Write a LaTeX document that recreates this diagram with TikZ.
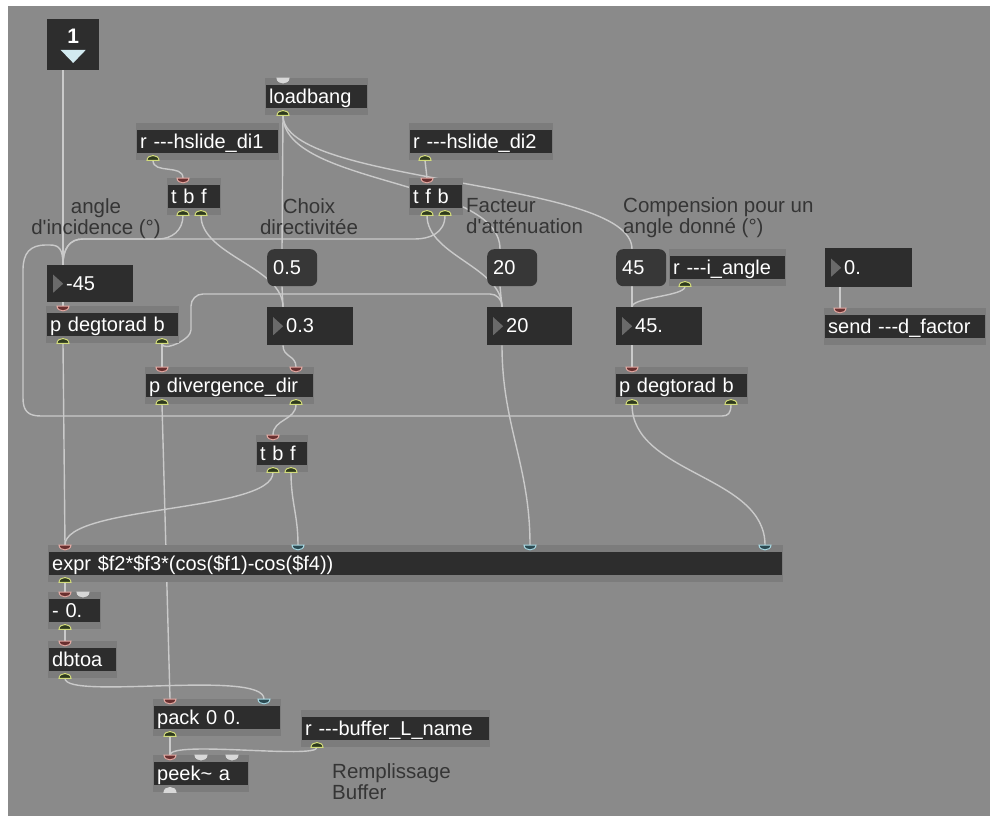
\documentclass[tikz,border=0pt]{standalone}
\usepackage{fontspec}
\setmainfont{Liberation Sans}
\usetikzlibrary{calc}
\definecolor{patchbg}{HTML}{8A8A8A}
\definecolor{band}{HTML}{7C7C7C}
\definecolor{boxfill}{HTML}{2D2D2D}
\definecolor{msgfill}{HTML}{373737}
\definecolor{cordc}{HTML}{CACACA}
\definecolor{cmtc}{HTML}{353535}
\definecolor{tric}{HTML}{6A6A6A}
\definecolor{inletc}{HTML}{D2EAF0}
\definecolor{hotfill}{HTML}{6A3030}
\definecolor{hotrim}{HTML}{E2A9A2}
\definecolor{coldfill}{HTML}{2B4A52}
\definecolor{coldrim}{HTML}{A8D8E2}
\definecolor{outfill}{HTML}{2E3A1E}
\definecolor{outrim}{HTML}{D2DB7A}
\definecolor{pwhitec}{HTML}{D8D8D8}
\pgfdeclarelayer{bg}
\pgfdeclarelayer{cords}
\pgfsetlayers{bg,cords,main}
\tikzset{
  obj/.style={anchor=north west,fill=band,text=white,inner xsep=4pt,inner ysep=0pt,
    minimum height=37pt,text width=#1,text height=16pt,text depth=3pt,
    execute at begin node={\hbox\bgroup},execute at end node={\egroup},
    path picture={\fill[boxfill] ([xshift=1pt,yshift=-7pt]path picture bounding box.north west)
      rectangle ([xshift=-1pt,yshift=7pt]path picture bounding box.south east);}},
  num/.style={anchor=north west,fill=boxfill,text=white,inner xsep=3pt,inner ysep=0pt,
    minimum height=38pt,text width=#1,text height=16pt,text depth=3pt,
    execute at begin node={\hbox\bgroup\hspace*{16pt}},execute at end node={\egroup},
    path picture={\fill[tric] ([xshift=6pt,yshift=9pt]path picture bounding box.west)
      -- ++(10pt,-9pt) -- ++(-10pt,-9pt) -- cycle;}},
  msg/.style={anchor=north west,fill=msgfill,rounded corners=7pt,text=white,inner xsep=6pt,
    inner ysep=0pt,minimum height=37pt,text width=#1,text height=16pt,text depth=3pt,
    execute at begin node={\hbox\bgroup},execute at end node={\egroup}},
  cmt/.style={text=cmtc,inner sep=0pt,font=\fontsize{20.5}{21}\selectfont},
  cord/.style={draw=cordc,line width=1.4pt},
  hot/.style={fill=hotfill,draw=hotrim,line width=1pt},
  cold/.style={fill=coldfill,draw=coldrim,line width=1pt},
  pwhite/.style={fill=pwhitec,draw=pwhitec,line width=1pt},
  outp/.style={fill=outfill,draw=outrim,line width=1pt}
}

\begin{document}
\begin{tikzpicture}[x=1pt,y=-1pt,font=\fontsize{20}{21}\selectfont]
 \useasboundingbox (0,0) rectangle (990,816);
 \begin{pgfonlayer}{bg}
  \fill[white] (0,0) rectangle (990,816);
  \fill[patchbg] (8,6) rectangle (990,816);
 \end{pgfonlayer}
 % inlet 1
 \node[anchor=north west,fill=boxfill,minimum width=52pt,minimum height=51pt,inner sep=0pt] (inl) at (47,19) {};
 \node[text=white,font=\fontsize{21}{21}\selectfont\bfseries] (inlnum) at ($(inl.north)+(0,17)$) {1};
 \fill[inletc] ($(inl.north)+(-12.5,31)$) -- ++(25,0) -- ++(-12.5,13) -- cycle;
 % objects
 \node[obj=95pt] (lb) at (265,78) {loadbang};
 \node[obj=135pt] (hsl1) at (136,123) {r -{}-{}-hslide\_di1};
 \node[obj=46pt] (tbfA) at (167,178) {t b f};
 \node[obj=136pt] (hsl2) at (409,123) {r -{}-{}-hslide\_di2};
 \node[obj=46pt] (tfb) at (409,178) {t f b};
 \node[obj=109pt] (iang) at (669,249) {r -{}-{}-i\_angle};
 \node[obj=154pt] (send) at (824,308) {send -{}-{}-d\_factor};
 \node[obj=125pt] (degL) at (46,306) {p degtorad b};
 \node[obj=161pt] (div) at (145,367) {p divergence\_dir};
 \node[obj=125pt] (degR) at (615,367) {p degtorad b};
 \node[obj=44pt] (tbfB) at (256,435) {t b f};
 \node[obj=727pt] (expr) at (48,545) {expr \$f2*\$f3*(cos(\$f1)-cos(\$f4))};
 \node[obj=45pt] (sub) at (48,592) {- 0.};
 \node[obj=61pt] (dbtoa) at (48,641) {dbtoa};
 \node[obj=120pt] (pack) at (153,699) {pack 0 0.};
 \node[obj=181pt] (rbuf) at (301,710) {r -{}-{}-buffer\_L\_name};
 \node[obj=88pt] (peek) at (153,755) {peek\textasciitilde{} a};
 % messages and number boxes
 \node[msg=38pt] (m05) at (267,249) {0.5};
 \node[msg=38pt] (m20) at (487,249) {20};
 \node[msg=38pt] (m45) at (616,249) {45};
 \node[num=80pt,minimum height=37pt] (n45) at (47,265) {-45};
 \node[num=80pt] (n03) at (267,307) {0.3};
 \node[num=79pt] (n20) at (487,307) {20};
 \node[num=80pt] (n45d) at (616,307) {45.};
 \node[num=81pt,minimum height=39pt] (n0) at (825,248) {0.};
 % comments
 \node[cmt,align=center,anchor=north] (cAng) at (96,198) {angle\\d\textquotesingle incidence (°)};
 \node[cmt,align=center,anchor=north] (cDir) at (309,198) {Choix\\directivitée};
 \node[cmt,align=left,anchor=north west] (cAtt) at (466,198) {Facteur\\d\textquotesingle atténuation};
 \node[cmt,align=left,anchor=north west] (cComp) at (623,197) {Compension pour un\\angle donné (°)};
 \node[cmt,align=left,anchor=north west] (cBuf) at (332,763) {Remplissage\\Buffer};
 % ports
 \foreach \nm/\dx/\st in {lb/18/pwhite,tbfA/16/hot,tfb/18/hot,send/16/hot,degL/17/hot,div/17/hot,
   div/151/hot,degR/17/hot,tbfB/17/hot,expr/17/hot,expr/250/cold,expr/482/cold,expr/717/cold,
   sub/17/hot,sub/35/pwhite,dbtoa/17/hot,pack/17/hot,pack/111/cold,peek/17/hot,peek/48/pwhite,peek/79/pwhite}{
  \coordinate (\nm-i\dx) at ($(\nm.north west)+(\dx,0)$);
  \filldraw[\st] ($(\nm-i\dx)+(-6,0)$) .. controls +(0,6.5) and +(0,6.5) .. ($(\nm-i\dx)+(6,0)$) -- cycle;
 }
 \foreach \nm/\dx/\st in {lb/18/outp,hsl1/17/outp,tbfA/16/outp,tbfA/34/outp,hsl2/16/outp,tfb/18/outp,
   tfb/36/outp,iang/16/outp,degL/17/outp,degL/116/outp,div/17/outp,div/151/outp,degR/17/outp,
   degR/116/outp,tbfB/17/outp,tbfB/35/outp,expr/17/outp,sub/17/outp,dbtoa/17/outp,pack/17/outp,
   rbuf/16/outp,peek/17/pwhite}{
  \coordinate (\nm-o\dx) at ($(\nm.south west)+(\dx,0)$);
  \filldraw[\st] ($(\nm-o\dx)+(-6,0)$) .. controls +(0,-6.5) and +(0,-6.5) .. ($(\nm-o\dx)+(6,0)$) -- cycle;
 }
 \foreach \nm/\dx in {inl/16,n45/16,m05/15,n03/16,m20/13,n20/15,m45/16,n45d/16,n0/15}{
  \coordinate (\nm-i\dx) at ($(\nm.north west)+(\dx,0)$);
  \coordinate (\nm-o\dx) at ($(\nm.south west)+(\dx,0)$);
 }
 % patch cords
 \begin{pgfonlayer}{cords}
  \draw[cord] (inl-o16) -- (n45-i16);
  \draw[cord] (lb-o18) -- (m05-i15);
  \draw[cord] (lb-o18) .. controls +(0,70) and +(0,-70) .. (m20-i13);
  \draw[cord] (lb-o18) .. controls +(0,70) and +(0,-70) .. (m45-i16);
  \draw[cord] (hsl1-o17) .. controls +(0,14) and +(0,-14) .. (tbfA-i16);
  \draw[cord] (hsl2-o16) -- (tfb-i18);
  \draw[cord] (tbfA-o16) .. controls +(0,15) and +(14,0) .. (158,239) -- (83,239)
    .. controls (70,239) and (63,248) .. (n45-i16);
  \draw[cord] (tfb-o36) .. controls +(0,18) and +(14,0) .. (415,239) -- (83,239)
    .. controls (70,239) and (63,248) .. (n45-i16);
  \draw[cord] (tbfA-o34) .. controls +(0,40) and +(0,-40) .. (n03-i16);
  \draw[cord] (tfb-o18) .. controls +(0,40) and +(0,-40) .. (n20-i15);
  \draw[cord] (m05-o15) -- (n03-i16);
  \draw[cord] (m20-o13) -- (n20-i15);
  \draw[cord] (m45-o16) -- (n45d-i16);
  \draw[cord] (iang-o16) .. controls +(0,10) and +(0,-10) .. (n45d-i16);
  \draw[cord] (n0-o15) -- (send-i16);
  \draw[cord] (n45-o16) -- (degL-i17);
  \draw[cord] (degL-o17) -- (expr-i17);
  \draw[cord] (degL-o116) -- (div-i17);
  \draw[cord] (degL-o116) .. controls +(0,9) and +(0,10) .. (191,330)
    [rounded corners=12pt] -- (191,294) -| (n20-i15);
  \draw[cord] (n03-o16) .. controls +(0,12) and +(0,-12) .. (div-i151);
  \draw[cord] (n20-o15) .. controls +(0,80) and +(0,-80) .. (expr-i482);
  \draw[cord] (n45d-o16) -- (degR-i17);
  \draw[cord] (degR-o116) .. controls +(0,9) and +(6,0) .. (722,416) -- (41,416)
    .. controls (28,416) and (23,411) .. (23,398) -- (23,270)
    .. controls (23,253) and (30,245) .. (46,245) -- (50,245)
    .. controls (59,245) and (63,249) .. (n45-i16);
  \draw[cord] (div-o17) -- (pack-i17);
  \draw[cord] (div-o151) .. controls +(0,16) and +(0,-16) .. (tbfB-i17);
  \draw[cord] (tbfB-o17) .. controls +(0,40) and +(0,-40) .. (expr-i17);
  \draw[cord] (tbfB-o35) .. controls +(0,30) and +(0,-30) .. (expr-i250);
  \draw[cord] (degR-o17) .. controls +(0,70) and +(0,-70) .. (expr-i717);
  \draw[cord] (expr-o17) -- (sub-i17);
  \draw[cord] (sub-o17) -- (dbtoa-i17);
  \draw[cord] (dbtoa-o17) .. controls +(0,22) and +(0,-30) .. (pack-i111);
  \draw[cord] (pack-o17) -- (peek-i17);
  \draw[cord] (rbuf-o16) .. controls +(0,12) and +(0,-15) .. (peek-i17);
 \end{pgfonlayer}
\end{tikzpicture}
\end{document}
